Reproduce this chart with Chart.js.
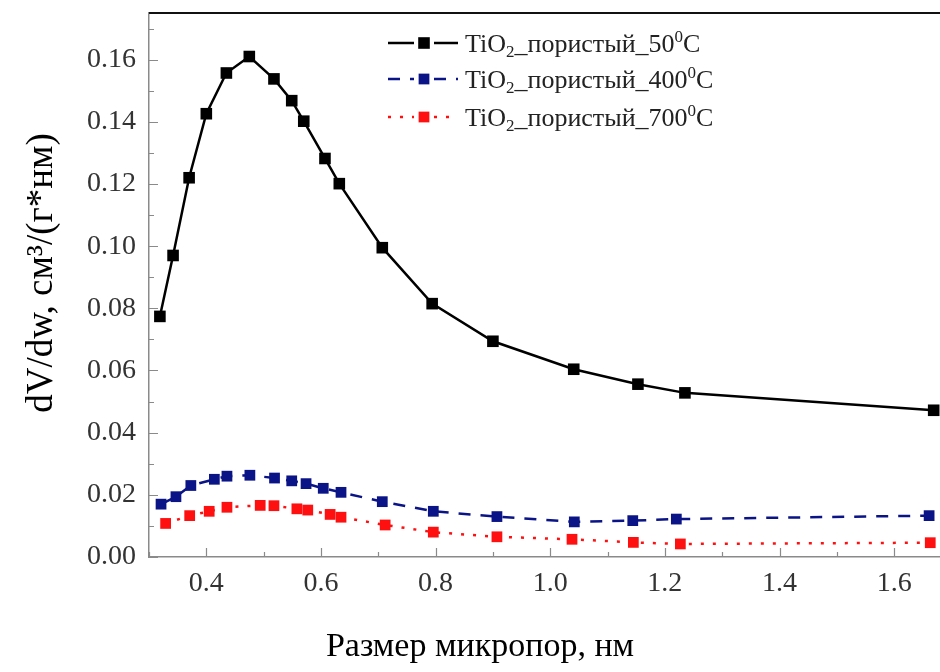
<!DOCTYPE html>
<html>
<head>
<meta charset="utf-8">
<script src="https://cdn.jsdelivr.net/npm/chart.js@4/dist/chart.umd.min.js"></script>
<style>
  html, body { margin: 0; padding: 0; background: #ffffff; }
  #wrap { width: 940px; height: 672px; position: relative; }
</style>
</head>
<body>
<div id="wrap"><canvas id="chart" width="940" height="672"></canvas></div>
<script>
// Pore size distribution of porous TiO2 after treatment at 50, 400 and 700 °C
const poreSize50 = [0.319, 0.342, 0.370, 0.400, 0.435, 0.475, 0.518, 0.549, 0.570, 0.607, 0.632, 0.707, 0.794, 0.900, 1.041, 1.153, 1.235, 1.669];
const dvdw50     = [0.0774, 0.0970, 0.1220, 0.1426, 0.1557, 0.1610, 0.1538, 0.1468, 0.1402, 0.1282, 0.1201, 0.0995, 0.0815, 0.0694, 0.0604, 0.0556, 0.0528, 0.0472];

const poreSize400 = [0.321, 0.347, 0.373, 0.414, 0.436, 0.476, 0.519, 0.549, 0.574, 0.604, 0.635, 0.707, 0.796, 0.907, 1.042, 1.144, 1.220, 1.661];
const dvdw400     = [0.0170, 0.0194, 0.0230, 0.0250, 0.0260, 0.0263, 0.0254, 0.0245, 0.0236, 0.0221, 0.0208, 0.0178, 0.0147, 0.0130, 0.0113, 0.0117, 0.0122, 0.0133];

const poreSize700 = [0.329, 0.371, 0.405, 0.436, 0.494, 0.518, 0.558, 0.577, 0.616, 0.635, 0.712, 0.796, 0.907, 1.038, 1.145, 1.227, 1.663];
const dvdw700     = [0.0108, 0.0133, 0.0147, 0.0160, 0.0166, 0.0165, 0.0155, 0.0151, 0.0137, 0.0128, 0.0103, 0.0080, 0.0065, 0.0057, 0.0047, 0.0042, 0.0046];

// legend entries: [before subscript, subscript, middle, superscript, tail]
const seriesNames = [
  ['TiO', '2', '_пористый_50', '0', 'C'],
  ['TiO', '2', '_пористый_400', '0', 'C'],
  ['TiO', '2', '_пористый_700', '0', 'C']
];

const xTicks = [0.4, 0.6, 0.8, 1.0, 1.2, 1.4, 1.6];
const xMinorTicks = [0.3, 0.5, 0.7, 0.9, 1.1, 1.3, 1.5];
const yTicks = [0.00, 0.02, 0.04, 0.06, 0.08, 0.10, 0.12, 0.14, 0.16];
const yMinorTicks = [0.01, 0.03, 0.05, 0.07, 0.09, 0.11, 0.13, 0.15, 0.17];

const xTitle = 'Размер микропор, нм';
const yTitle = 'dV/dw, см³/(г*нм)';

const SERIF = '"Liberation Serif", "Times New Roman", serif';

function toPoints(xs, ys) {
  return xs.map((x, i) => ({ x: x, y: ys[i] }));
}

// inner tick marks, top frame line, legend and axis titles
const decorPlugin = {
  id: 'decor',
  afterDatasetsDraw(chart) {
    const ctx = chart.ctx;
    const area = chart.chartArea;
    const xs = chart.scales.x, ys = chart.scales.y;
    ctx.save();
    ctx.strokeStyle = '#8a8a8a';
    ctx.lineWidth = 1.2;
    ctx.beginPath();
    xTicks.forEach(v => { const p = Math.round(xs.getPixelForValue(v)) + 0.5; ctx.moveTo(p, area.bottom); ctx.lineTo(p, area.bottom - 9); });
    xMinorTicks.forEach(v => { const p = Math.round(xs.getPixelForValue(v)) + 0.5; ctx.moveTo(p, area.bottom); ctx.lineTo(p, area.bottom - 5); });
    yTicks.forEach(v => { const p = Math.round(ys.getPixelForValue(v)) + 0.5; ctx.moveTo(area.left, p); ctx.lineTo(area.left + 9, p); });
    yMinorTicks.forEach(v => { const p = Math.round(ys.getPixelForValue(v)) + 0.5; ctx.moveTo(area.left, p); ctx.lineTo(area.left + 5, p); });
    ctx.stroke();
    // top frame
    ctx.strokeStyle = '#111111';
    ctx.lineWidth = 2;
    ctx.beginPath();
    ctx.moveTo(area.left, area.top);
    ctx.lineTo(area.right, area.top);
    ctx.stroke();
    ctx.restore();
  },
  afterDraw(chart) {
    const ctx = chart.ctx;
    ctx.save();
    // legend
    const rowsY = [43, 79, 117];
    const lineX0 = 388, lineX1 = 458, markX = 424;
    chart.data.datasets.forEach((ds, i) => {
      const y = rowsY[i];
      ctx.strokeStyle = ds.borderColor;
      ctx.lineWidth = ds.borderWidth;
      ctx.setLineDash(ds.borderDash || []);
      ctx.beginPath();
      ctx.moveTo(lineX0, y); ctx.lineTo(markX - 10, y);
      ctx.moveTo(markX + 10, y); ctx.lineTo(lineX1, y);
      ctx.stroke();
      ctx.setLineDash([]);
      const s = ds.pointRadius * Math.SQRT1_2;
      ctx.fillStyle = ds.pointBackgroundColor;
      ctx.fillRect(markX - s, y - s, 2 * s, 2 * s);
      // label text with sub/superscript
      const parts = seriesNames[i];
      let x = 465;
      const big = '26px ' + SERIF, small = '17px ' + SERIF;
      ctx.fillStyle = '#222222';
      ctx.textBaseline = 'alphabetic';
      ctx.textAlign = 'left';
      const base = y + 9;
      ctx.font = big; ctx.fillText(parts[0], x, base); x += ctx.measureText(parts[0]).width;
      ctx.font = small; ctx.fillText(parts[1], x, base + 5); x += ctx.measureText(parts[1]).width;
      ctx.font = big; ctx.fillText(parts[2], x, base); x += ctx.measureText(parts[2]).width;
      ctx.font = small; ctx.fillText(parts[3], x, base - 10); x += ctx.measureText(parts[3]).width;
      ctx.font = big; ctx.fillText(parts[4], x, base);
    });
    // x-axis title
    ctx.fillStyle = '#000000';
    ctx.font = '34px ' + SERIF;
    ctx.textAlign = 'center';
    ctx.textBaseline = 'alphabetic';
    ctx.fillText(xTitle, 480, 656);
    // y-axis title
    ctx.translate(52, 273);
    ctx.rotate(-Math.PI / 2);
    ctx.font = '37px ' + SERIF;
    ctx.fillText(yTitle, 0, 0);
    ctx.restore();
  }
};

new Chart(document.getElementById('chart'), {
  type: 'line',
  data: {
    datasets: [
      {
        label: seriesNames[0].join(''),
        data: toPoints(poreSize50, dvdw50),
        borderColor: '#000000',
        backgroundColor: '#000000',
        borderWidth: 2.5,
        pointStyle: 'rect',
        pointRadius: 8.2,
        pointBackgroundColor: '#000000',
        pointBorderColor: '#000000',
        pointBorderWidth: 0,
        tension: 0
      },
      {
        label: seriesNames[1].join(''),
        data: toPoints(poreSize400, dvdw400),
        borderColor: '#0a1487',
        backgroundColor: '#0a1487',
        borderWidth: 2.5,
        borderDash: [12, 10],
        pointStyle: 'rect',
        pointRadius: 7.6,
        pointBackgroundColor: '#0a1487',
        pointBorderColor: '#0a1487',
        pointBorderWidth: 0,
        tension: 0
      },
      {
        label: seriesNames[2].join(''),
        data: toPoints(poreSize700, dvdw700),
        borderColor: '#ff1010',
        backgroundColor: '#ff1010',
        borderWidth: 2.5,
        borderDash: [3, 9],
        pointStyle: 'rect',
        pointRadius: 7.6,
        pointBackgroundColor: '#ff1010',
        pointBorderColor: '#ff1010',
        pointBorderWidth: 0,
        tension: 0
      }
    ]
  },
  options: {
    responsive: false,
    animation: false,
    clip: false,
    layout: { autoPadding: false, padding: { top: 13, left: 0, right: 0, bottom: 0 } },
    plugins: {
      legend: { display: false },
      tooltip: { enabled: false }
    },
    scales: {
      x: {
        type: 'linear',
        min: 0.3,
        max: 1.68,
        afterBuildTicks(scale) { scale.ticks = xTicks.map(v => ({ value: v })); },
        afterFit(scale) { scale.height = 115; scale.paddingLeft = 0; scale.paddingRight = 0; },
        grid: { display: false, drawTicks: false },
        border: { display: true, color: '#8a8a8a', width: 1.5 },
        ticks: {
          padding: 10,
          color: '#333333',
          font: { family: SERIF, size: 28 },
          maxRotation: 0,
          callback: v => v.toFixed(1)
        },
        title: { display: false }
      },
      y: {
        type: 'linear',
        min: 0,
        max: 0.175,
        afterBuildTicks(scale) { scale.ticks = yTicks.map(v => ({ value: v })); },
        afterFit(scale) { scale.width = 149; scale.paddingTop = 0; scale.paddingBottom = 0; },
        grid: { display: false, drawTicks: false },
        border: { display: true, color: '#8a8a8a', width: 1.5 },
        ticks: {
          padding: 13,
          color: '#333333',
          font: { family: SERIF, size: 28 },
          callback: v => v.toFixed(2)
        },
        title: { display: false }
      }
    }
  },
  plugins: [decorPlugin]
});
</script>
</body>
</html>
